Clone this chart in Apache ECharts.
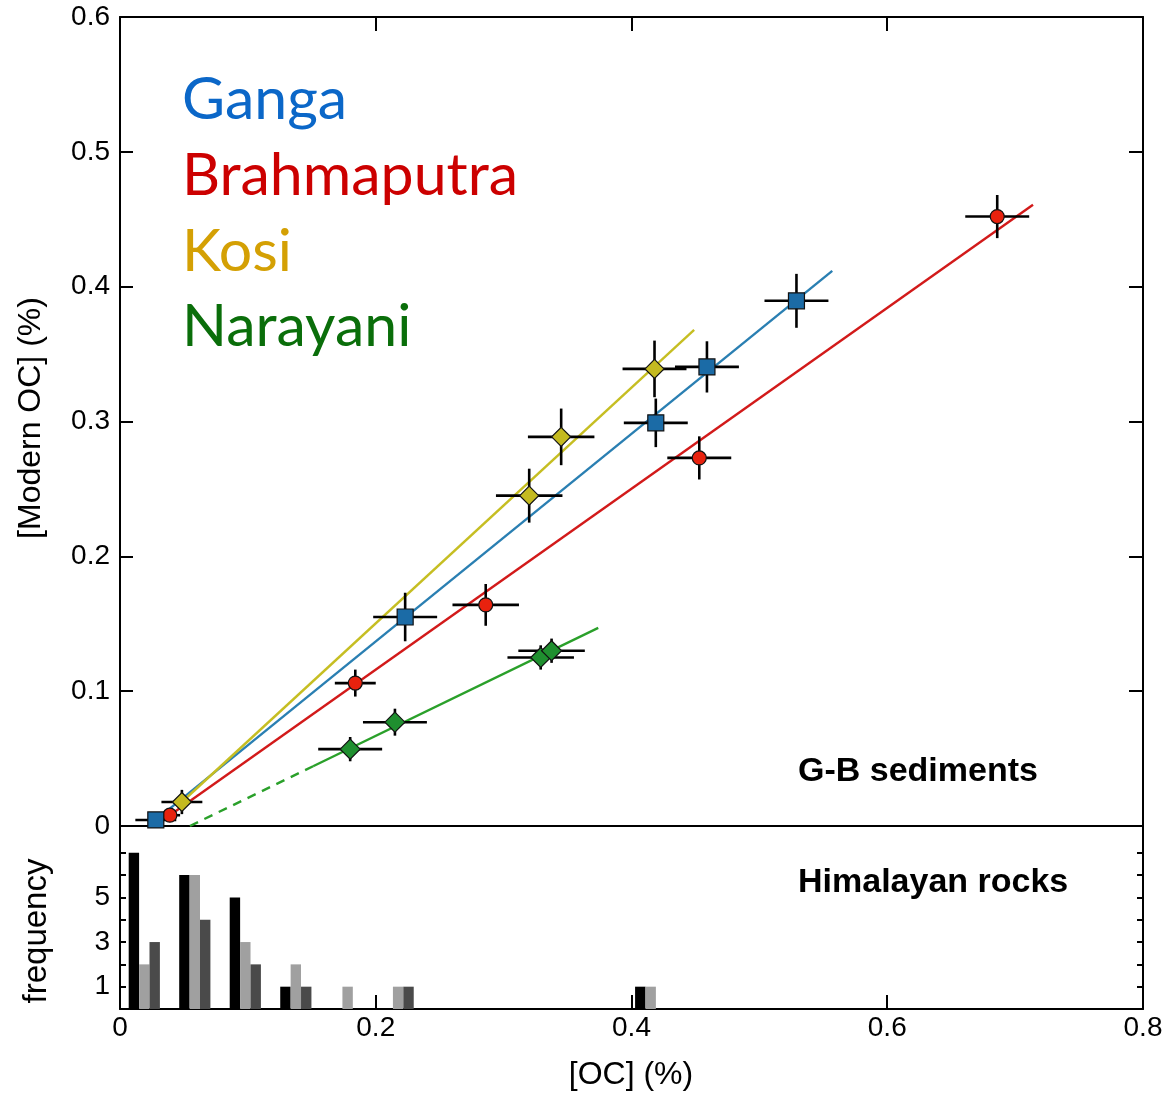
<!DOCTYPE html>
<html>
<head>
<meta charset="utf-8">
<script src="https://cdn.jsdelivr.net/npm/echarts@6/dist/echarts.min.js"></script>
<style>
  html, body { margin: 0; padding: 0; background: #ffffff; }
  #chart { width: 1167px; height: 1094px; }
</style>
</head>
<body>
<div id="chart"></div>
<script>
// ---- Modern OC vs total OC, G-B river sediments ----
// Ganga
const gangaX    = [0.028, 0.223, 0.419, 0.459, 0.529];
const gangaY    = [0.0045, 0.155, 0.299, 0.3405, 0.3895];
const gangaXErr = [0.016, 0.025, 0.025, 0.025, 0.025];
const gangaYErr = [0.004, 0.018, 0.018, 0.019, 0.020];
const gangaFit  = [[0.03, 0.006], [0.557, 0.4117]];

// Brahmaputra
const brahmaX    = [0.039, 0.184, 0.286, 0.453, 0.686];
const brahmaY    = [0.008, 0.106, 0.164, 0.273, 0.452];
const brahmaXErr = [0.008, 0.016, 0.026, 0.025, 0.025];
const brahmaYErr = [0.004, 0.010, 0.0155, 0.016, 0.016];
const brahmaFit  = [[0.039, 0.008], [0.714, 0.4607]];

// Kosi
const kosiX    = [0.0484, 0.320, 0.345, 0.418];
const kosiY    = [0.0178, 0.245, 0.2886, 0.339];
const kosiXErr = [0.016, 0.026, 0.026, 0.025];
const kosiYErr = [0.009, 0.020, 0.021, 0.021];
const kosiFit  = [[0.0484, 0.0178], [0.449, 0.368]];

// Narayani
const naraX    = [0.180, 0.215, 0.329, 0.3375];
const naraY    = [0.057, 0.077, 0.125, 0.130];
const naraXErr = [0.025, 0.025, 0.026, 0.026];
const naraYErr = [0.009, 0.010, 0.009, 0.009];
const naraFit      = [[0.151, 0.0443], [0.374, 0.1469]];
const naraFitExtra = [[0.0547, 0.0], [0.151, 0.0443]];

// Himalayan rocks: OC histogram (three rock groups per bin)
const binCenters  = [0.019, 0.0585, 0.098, 0.1375, 0.178, 0.2175, 0.415];
const countsBlack = [7, 6, 5, 1, 0, 0, 1];
const countsLight = [2, 6, 3, 2, 1, 1, 1];
const countsDark  = [3, 4, 2, 1, 0, 1, 0];

// Axis ticks
const xTicks      = [0.2, 0.4, 0.6];
const yTicksMain  = [0.1, 0.2, 0.3, 0.4, 0.5];
const freqTicks   = [1, 2, 3, 4, 5, 6, 7];
const freqLabels  = [1, 3, 5];

const pts = (xs, ys) => xs.map((x, i) => [x, ys[i]]);
const errs = (xs, ys, xe, ye) => xs.map((x, i) => [x, ys[i], xe[i], ye[i]]);
const bins = (counts) => binCenters.map((x, i) => counts[i] > 0 ? [x, counts[i]] : [x, '-']);

const FONT = 'Liberation Sans, Arial, sans-serif';
const AX = { color: '#000', width: 2 };
const LINE = { show: true, onZero: false, lineStyle: AX };

function errorBarSeries(data) {
  return {
    type: 'custom',
    xAxisIndex: 0, yAxisIndex: 0,
    z: 3,
    encode: { x: 0, y: 1 },
    data: data,
    silent: true,
    renderItem: function (params, api) {
      const x = api.value(0), y = api.value(1), xe = api.value(2), ye = api.value(3);
      const l = api.coord([x - xe, y]), r = api.coord([x + xe, y]);
      const b = api.coord([x, y - ye]), t = api.coord([x, y + ye]);
      const st = { stroke: '#000', lineWidth: 2.6 };
      return {
        type: 'group',
        children: [
          { type: 'line', shape: { x1: l[0], y1: l[1], x2: r[0], y2: r[1] }, style: st },
          { type: 'line', shape: { x1: b[0], y1: b[1], x2: t[0], y2: t[1] }, style: st }
        ]
      };
    }
  };
}

function fitLine(data, color, dashed) {
  return {
    type: 'line', xAxisIndex: 0, yAxisIndex: 0, z: 2,
    data: data, symbol: 'none', silent: true,
    lineStyle: { color: color, width: 2.4, type: dashed ? [9, 7] : 'solid' }
  };
}

function scatter(data, symbol, size, color) {
  return {
    type: 'scatter', xAxisIndex: 0, yAxisIndex: 0, z: 4,
    data: data, symbol: symbol, symbolSize: size,
    itemStyle: { color: color, borderColor: '#111', borderWidth: 1.2, opacity: 1 }
  };
}

function histBars(counts, color) {
  return {
    type: 'bar', xAxisIndex: 2, yAxisIndex: 2,
    data: bins(counts), barWidth: 10.4, barGap: '0%',
    itemStyle: { color: color }
  };
}

const chart = echarts.init(document.getElementById('chart'), null, { renderer: 'canvas' });

const option = {
  animation: false,
  backgroundColor: '#ffffff',
  grid: [
    { left: 120, top: 17, width: 1023, height: 809 },
    { left: 120, top: 826, width: 1023, height: 183 }
  ],
  xAxis: [
    // main panel bottom edge
    { type: 'value', gridIndex: 0, min: 0, max: 0.8, position: 'bottom',
      axisLine: LINE, axisTick: { show: false },
      axisLabel: { show: false }, splitLine: { show: false } },
    // main panel top edge
    { type: 'value', gridIndex: 0, min: 0, max: 0.8, position: 'top',
      axisLine: LINE,
      axisTick: { show: true, inside: true, length: 14, customValues: xTicks, lineStyle: AX },
      axisLabel: { show: false }, splitLine: { show: false } },
    // histogram bottom axis with labels
    { type: 'value', gridIndex: 1, min: 0, max: 0.8, interval: 0.2, position: 'bottom',
      axisLine: LINE,
      axisTick: { show: true, inside: true, length: 14, customValues: xTicks, lineStyle: AX },
      axisLabel: { show: true, color: '#000', fontSize: 28, fontFamily: FONT, margin: 5,
        formatter: v => (v === 0 ? '0' : v.toFixed(1)) },
      splitLine: { show: false } },
    // histogram top edge
    { type: 'value', gridIndex: 1, min: 0, max: 0.8, position: 'top',
      axisLine: LINE, axisTick: { show: false },
      axisLabel: { show: false }, splitLine: { show: false } }
  ],
  yAxis: [
    { type: 'value', gridIndex: 0, min: 0, max: 0.6, interval: 0.1, position: 'left',
      axisLine: LINE,
      axisTick: { show: true, inside: true, length: 13, customValues: yTicksMain, lineStyle: AX },
      axisLabel: { show: true, color: '#000', fontSize: 28, fontFamily: FONT, margin: 10,
        formatter: v => (v === 0 ? '0' : v.toFixed(1)) },
      splitLine: { show: false } },
    { type: 'value', gridIndex: 0, min: 0, max: 0.6, position: 'right',
      axisLine: LINE,
      axisTick: { show: true, inside: true, length: 14, customValues: yTicksMain, lineStyle: AX },
      axisLabel: { show: false }, splitLine: { show: false } },
    { type: 'value', gridIndex: 1, min: 0, max: 8.2, position: 'left',
      axisLine: LINE,
      axisTick: { show: true, inside: true, length: 6, customValues: freqTicks, lineStyle: AX },
      axisLabel: { show: true, color: '#000', fontSize: 28, fontFamily: FONT, margin: 10,
        customValues: freqLabels },
      splitLine: { show: false } },
    { type: 'value', gridIndex: 1, min: 0, max: 8.2, position: 'right',
      axisLine: LINE,
      axisTick: { show: true, inside: true, length: 6, customValues: freqTicks, lineStyle: AX },
      axisLabel: { show: false }, splitLine: { show: false } }
  ],
  graphic: [
    { type: 'text', left: 182, top: 70, z: 10, style: { text: 'Ganga', fill: '#0B67C8',
      font: '59px Lato, sans-serif' } },
    { type: 'text', left: 182, top: 146, z: 10, style: { text: 'Brahmaputra', fill: '#CC0000',
      font: '59px Lato, sans-serif' } },
    { type: 'text', left: 182, top: 222, z: 10, style: { text: 'Kosi', fill: '#D4A004',
      font: '59px Lato, sans-serif' } },
    { type: 'text', left: 182, top: 297, z: 10, style: { text: 'Narayani', fill: '#0A6E0A',
      font: '59px Lato, sans-serif' } },
    { type: 'text', left: 798, top: 755, z: 10, style: { text: 'G-B sediments', fill: '#000',
      font: 'bold 34px Liberation Sans, Arial, sans-serif' } },
    { type: 'text', left: 798, top: 866, z: 10, style: { text: 'Himalayan rocks', fill: '#000',
      font: 'bold 34px Liberation Sans, Arial, sans-serif' } },
    { type: 'text', x: 31, y: 418, rotation: Math.PI / 2, z: 10,
      style: { text: '[Modern OC] (%)', fill: '#000', font: '32px Liberation Sans, Arial, sans-serif',
        align: 'center', verticalAlign: 'middle' } },
    { type: 'text', x: 37, y: 931, rotation: Math.PI / 2, z: 10,
      style: { text: 'frequency', fill: '#000', font: '33px Liberation Sans, Arial, sans-serif',
        align: 'center', verticalAlign: 'middle' } },
    { type: 'text', x: 631, y: 1075, z: 10,
      style: { text: '[OC] (%)', fill: '#000', font: '32px Liberation Sans, Arial, sans-serif',
        align: 'center', verticalAlign: 'middle' } }
  ],
  series: [
    fitLine(naraFitExtra, '#2AA02A', true),
    fitLine(naraFit, '#2AA02A', false),
    fitLine(brahmaFit, '#D21A1A', false),
    fitLine(gangaFit, '#2A7FB2', false),
    fitLine(kosiFit, '#C6BE22', false),
    errorBarSeries(errs(naraX, naraY, naraXErr, naraYErr)),
    errorBarSeries(errs(brahmaX, brahmaY, brahmaXErr, brahmaYErr)),
    errorBarSeries(errs(gangaX, gangaY, gangaXErr, gangaYErr)),
    errorBarSeries(errs(kosiX, kosiY, kosiXErr, kosiYErr)),
    scatter(pts(naraX, naraY), 'diamond', 20, '#1F8F2F'),
    scatter(pts(brahmaX, brahmaY), 'circle', 14, '#E8220E'),
    scatter(pts(gangaX, gangaY), 'rect', 16, '#1B6BA6'),
    scatter(pts(kosiX, kosiY), 'diamond', 19, '#C4BA20'),
    histBars(countsBlack, '#000000'),
    histBars(countsLight, '#A0A0A0'),
    histBars(countsDark, '#4A4A4A')
  ]
};

chart.setOption(option);
</script>
</body>
</html>
